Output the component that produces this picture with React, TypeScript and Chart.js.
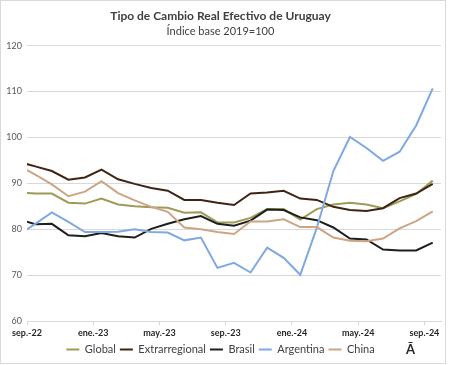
import React, { useEffect, useRef } from 'react';
import { Chart, registerables } from 'chart.js';

Chart.register(...registerables);

const TITLE = 'Tipo de Cambio Real Efectivo de Uruguay';
const SUBTITLE = 'Índice base 2019=100';

// Monthly observations, ago.-22 .. sep.-24 (the first one is only partly visible at the left edge)
const months = [
  'ago.-22', 'sep.-22', 'oct.-22', 'nov.-22', 'dic.-22',
  'ene.-23', 'feb.-23', 'mar.-23', 'abr.-23', 'may.-23', 'jun.-23', 'jul.-23', 'ago.-23', 'sep.-23', 'oct.-23', 'nov.-23', 'dic.-23',
  'ene.-24', 'feb.-24', 'mar.-24', 'abr.-24', 'may.-24', 'jun.-24', 'jul.-24', 'ago.-24', 'sep.-24',
];

const globalIdx = [88.0, 87.8, 87.8, 85.8, 85.6, 86.7, 85.4, 85.0, 84.8, 84.7, 83.6, 83.7, 81.5, 81.5, 82.5, 84.4, 84.4, 82.1, 84.4, 85.4, 85.8, 85.4, 84.6, 86.1, 87.7, 90.6];
const extrarregional = [94.7, 93.7, 92.7, 90.8, 91.3, 93.0, 90.9, 89.9, 89.0, 88.4, 86.4, 86.4, 85.8, 85.3, 87.8, 88.0, 88.4, 86.7, 86.4, 84.9, 84.2, 84.0, 84.6, 86.8, 87.8, 89.9];
const brasil = [82.2, 81.1, 81.2, 78.7, 78.5, 79.2, 78.5, 78.2, 80.1, 81.2, 82.2, 82.9, 81.2, 80.8, 81.9, 84.3, 84.2, 82.6, 82.0, 80.4, 78.0, 77.8, 75.6, 75.4, 75.4, 77.1];
const argentina = [78.8, 81.2, 83.7, 81.6, 79.4, 79.4, 79.5, 80.0, 79.4, 79.3, 77.6, 78.2, 71.6, 72.7, 70.6, 76.0, 73.8, 70.1, 80.3, 92.7, 100.1, 97.7, 94.9, 96.9, 102.6, 110.7];
const china = [93.9, 91.9, 89.8, 87.2, 88.2, 90.5, 87.9, 86.3, 84.9, 83.8, 80.4, 80.0, 79.4, 79.0, 81.7, 81.7, 82.2, 80.5, 80.5, 78.2, 77.5, 77.4, 78.0, 80.2, 81.8, 83.9];

const seriesNames = ['Global', 'Extrarregional', 'Brasil', 'Argentina', 'China'];
const seriesValues = [globalIdx, extrarregional, brasil, argentina, china];
const seriesColors = ['#9E9B57', '#3D2516', '#1E1E1E', '#7EA9E3', '#CDA584'];

// x axis: months counted from the start of sep.-22; ticks every 4 months
const tickValues = [0, 4, 8, 12, 16, 20, 24];
const tickLabels = ['sep.-22', 'ene.-23', 'may.-23', 'sep.-23', 'ene.-24', 'may.-24', 'sep.-24'];
const xMin = 0;
const xMax = 25;

export default function App() {
  const canvasRef = useRef<HTMLCanvasElement | null>(null);

  useEffect(() => {
    document.body.style.margin = '0';
    const canvas = canvasRef.current;
    if (!canvas) return;

    const datasets = seriesNames.map((name, si) => ({
      label: name,
      data: seriesValues[si].map((v, i) => ({ x: i - 0.5, y: v })),
      borderColor: seriesColors[si],
      backgroundColor: seriesColors[si],
      borderWidth: 2,
      pointRadius: 0,
      tension: 0,
      clip: 0,
      order: -si,
    }));

    const chart = new Chart(canvas, {
      type: 'line',
      data: { datasets },
      options: {
        animation: false,
        responsive: false,
        maintainAspectRatio: false,
        layout: { padding: { left: 0, right: 9, top: 0, bottom: 0 } },
        plugins: {
          title: {
            display: true,
            text: TITLE,
            color: '#404040',
            font: { family: 'Lato', size: 12, weight: 'bold' },
            padding: { top: 9, bottom: 1 },
          },
          subtitle: {
            display: true,
            text: SUBTITLE,
            color: '#404040',
            font: { family: 'Lato', size: 11 },
            padding: { top: 0, bottom: 8 },
          },
          legend: {
            position: 'bottom',
            labels: {
              boxWidth: 13,
              boxHeight: 2,
              padding: 4,
              color: '#404040',
              font: { family: 'Lato', size: 11 },
              sort: (a: any, b: any) => a.datasetIndex - b.datasetIndex,
              generateLabels: (c: any) =>
                Chart.defaults.plugins.legend.labels
                  .generateLabels(c)
                  .map((l: any) => ({ ...l, lineWidth: 0 })),
            },
          },
          tooltip: { enabled: false },
        },
        scales: {
          x: {
            type: 'linear',
            min: xMin,
            max: xMax,
            afterBuildTicks: (s: any) => {
              s.ticks = tickValues.map((v) => ({ value: v }));
            },
            ticks: {
              autoSkip: false,
              maxRotation: 0,
              padding: 2,
              color: '#262626',
              font: { family: 'Lato', size: 9, weight: 'bold' },
              callback: (_v: any, index: number) => tickLabels[index] ?? '',
            },
            grid: { drawOnChartArea: false, drawTicks: true, tickLength: 4, color: '#d9d9d9' },
            border: { display: true, color: '#d9d9d9' },
          },
          y: {
            min: 60,
            max: 120,
            afterFit: (s: any) => {
              s.width = 27;
            },
            ticks: {
              stepSize: 10,
              padding: 5,
              color: '#595959',
              font: { family: 'Lato', size: 9 },
            },
            grid: { color: '#d9d9d9', drawTicks: false },
            border: { display: false },
          },
        },
      },
    } as any);

    return () => chart.destroy();
  }, []);

  return (
    <div style={{ position: 'relative', width: 450, height: 365, background: '#fff' }}>
      <canvas ref={canvasRef} width={450} height={365} style={{ position: 'absolute', left: 0, top: 0 }} />
      <div
        style={{
          position: 'absolute',
          left: 0,
          top: 0,
          width: 446,
          height: 364,
          boxSizing: 'border-box',
          border: '1px solid #d9d9d9',
          pointerEvents: 'none',
        }}
      />
      <span
        style={{
          position: 'absolute',
          left: 406,
          top: 341,
          fontFamily: 'Lato, sans-serif',
          fontWeight: 'bold',
          fontSize: 13,
          color: '#262626',
          lineHeight: '16px',
        }}
      >
        Ā
      </span>
    </div>
  );
}
